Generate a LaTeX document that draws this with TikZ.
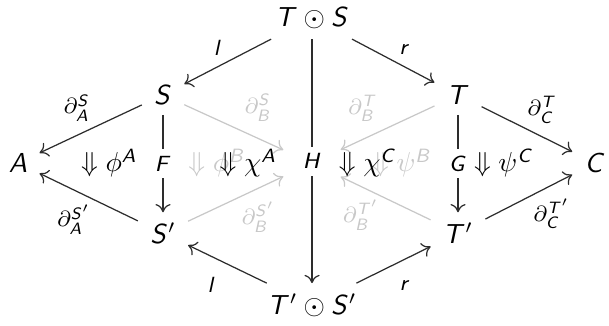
\documentclass[tikz,border=0pt]{standalone}
\usepackage{amsmath}
\usepackage{amssymb}
\usetikzlibrary{arrows.meta}
% sans italic letters, Greek stays in the math italic font
\DeclareMathAlphabet{\mathsfit}{OT1}{cmss}{m}{sl}
\newcommand{\sv}[1]{\mathsfit{#1}}
\definecolor{ink}{RGB}{45,45,45}
\definecolor{faded}{RGB}{200,200,200}
\tikzset{
    obj/.style={inner xsep=4.3pt, inner ysep=3.6pt, text=black},
    hiddenobj/.style={minimum width=0.72cm, minimum height=0.45cm, inner sep=0pt},
    map/.style={
        ->,
        >={To[length=3pt,width=5.5pt]},
        draw=ink,
        line width=0.45pt
    },
    ghostmap/.style={map, draw=faded},
    maplabel/.style={font=\footnotesize, inner sep=2pt, text=black},
    ghostlabel/.style={maplabel, text=faded},
    breaklabel/.style={maplabel, fill=white, inner sep=2.5pt},
    cell/.style={inner sep=1pt, text=black},
    ghostcell/.style={cell, text=faded}
}

\begin{document}
\begin{tikzpicture}[x=0.0128cm, y=-0.0128cm]
    \useasboundingbox (0,0) rectangle (609,325);

    % Objects
    \node[obj] (TS)  at (312, 18)  {$\sv{T}\odot\sv{S}$};
    \node[obj] (S)   at (163, 95)  {$\sv{S}$};
    \node[obj] (T)   at (458, 95)  {$\sv{T}$};
    \node[obj] (A)   at (18, 163)  {$\sv{A}$};
    \node[hiddenobj] (B) at (312, 163) {};
    \node[obj] (C)   at (595, 163) {$\sv{C}$};
    \node[obj] (Sp)  at (163, 233) {$\sv{S}'$};
    \node[obj] (Tp)  at (458, 233) {$\sv{T}'$};
    \node[obj] (TSp) at (312, 305) {$\sv{T}'\odot\sv{S}'$};

    % Faded arrows into the back object
    \draw[ghostmap] (S) -- node[ghostlabel, above right, xshift=1.8pt] {$\partial^{\sv{S}}_{\sv{B}}$} (B);
    \draw[ghostmap] (T) -- node[ghostlabel, above left, xshift=-1.5pt] {$\partial^{\sv{T}}_{\sv{B}}$} (B);
    \draw[ghostmap] (Sp) -- node[ghostlabel, below right, yshift=1pt] {$\partial^{\sv{S}'}_{\sv{B}}$} (B);
    \draw[ghostmap] (Tp) -- node[ghostlabel, below left, yshift=1.5pt] {$\partial^{\sv{T}'}_{\sv{B}}$} (B);

    % Faded 2-cells
    \node[ghostcell] (phiB) at (217, 163) {$\Downarrow\phi^{\sv{B}}$};
    \node[ghostcell] (psiB) at (402, 163) {$\Downarrow\psi^{\sv{B}}$};

    % Front arrows
    \draw[map] (TS) -- node[maplabel, above left] {$\sv{l}$} (S);
    \draw[map] (TS) -- node[maplabel, above right] {$\sv{r}$} (T);
    \draw[map] (S) -- node[maplabel, above left, xshift=2pt, yshift=0.5pt] {$\partial^{\sv{S}}_{\sv{A}}$} (A);
    \draw[map] (T) -- node[maplabel, above right, xshift=-2pt] {$\partial^{\sv{T}}_{\sv{C}}$} (C);
    \draw[map] (Sp) -- node[maplabel, below left, xshift=3pt, yshift=-0.5pt] {$\partial^{\sv{S}'}_{\sv{A}}$} (A);
    \draw[map] (Tp) -- node[maplabel, below right, xshift=-0.5pt, yshift=1.5pt] {$\partial^{\sv{T}'}_{\sv{C}}$} (C);
    \draw[map] (TSp) -- node[maplabel, below left, xshift=-2.2pt, yshift=-2.5pt] {$\sv{l}$} (Sp);
    \draw[map] (TSp) -- node[maplabel, below right, yshift=-3.6pt] {$\sv{r}$} (Tp);
    \draw[map] (S) -- node[breaklabel] {$\sv{F}$} (Sp);
    \draw[map] (T) -- node[breaklabel] {$\sv{G}$} (Tp);
    \draw[map] (TS) -- node[breaklabel] {$\sv{H}$} (TSp);

    % Front 2-cells
    \node[cell] (phiA) at (109, 163) {$\Downarrow\phi^{\sv{A}}$};
    \node[cell] (chiA) at (248, 163) {$\Downarrow\chi^{\sv{A}}$};
    \node[cell] (chiC) at (368, 163) {$\Downarrow\chi^{\sv{C}}$};
    \node[cell] (psiC) at (504, 163) {$\Downarrow\psi^{\sv{C}}$};
\end{tikzpicture}
\end{document}
